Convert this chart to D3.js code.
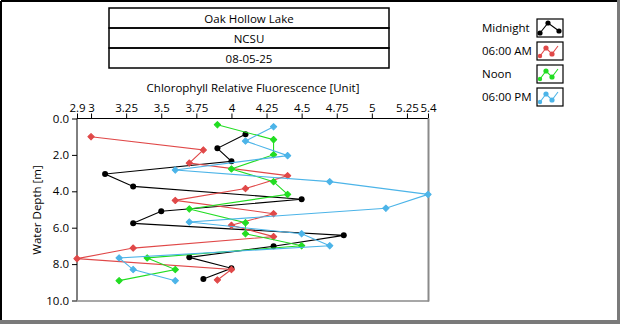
<!DOCTYPE html>
<html>
<head>
<meta charset="utf-8">
<script src="https://cdn.jsdelivr.net/npm/d3@7/dist/d3.min.js"></script>
<style>
  html, body { margin: 0; padding: 0; background: #fff; }
  svg { display: block; font-family: "Open Sans", "Noto Sans", sans-serif; }
</style>
</head>
<body>
<svg id="chart" width="620" height="324"></svg>
<script>
// Profile casts: chlorophyll fluorescence vs. depth, four casts over one day
const titleLines = ["Oak Hollow Lake", "NCSU", "08-05-25"];
const seriesNames = ["Midnight", "06:00 AM", "Noon", "06:00 PM"];
const seriesColors = ["#000000", "#e04848", "#22dd22", "#4cb4e8"];

const midnightDepth = [0.87, 1.64, 2.35, 3.05, 3.73, 4.44, 5.10, 5.76, 6.42, 7.02, 7.63, 8.23, 8.82];
const midnightValue = [4.1, 3.9, 4.0, 3.1, 3.3, 4.5, 3.5, 3.3, 4.8, 4.3, 3.7, 4.0, 3.8];

const amDepth = [1.00, 1.73, 2.45, 3.14, 3.85, 4.50, 5.23, 5.87, 6.49, 7.12, 7.70, 8.30, 8.87];
const amValue = [3.0, 3.8, 3.7, 4.4, 4.1, 3.6, 4.3, 4.0, 4.3, 3.3, 2.9, 4.0, 3.9];

const noonDepth = [0.34, 1.16, 1.99, 2.77, 3.47, 4.17, 4.97, 5.73, 6.33, 6.99, 7.66, 8.30, 8.91];
const noonValue = [3.9, 4.3, 4.3, 4.0, 4.3, 4.4, 3.7, 4.1, 4.1, 4.5, 3.4, 3.6, 3.2];

const pmDepth = [0.45, 1.24, 2.04, 2.83, 3.47, 4.17, 4.93, 5.69, 6.33, 6.99, 7.66, 8.30, 8.91];
const pmValue = [4.3, 4.1, 4.4, 3.6, 4.7, 5.4, 5.1, 3.7, 4.5, 4.7, 3.2, 3.3, 3.6];

const xTicks = [2.9, 3, 3.25, 3.5, 3.75, 4, 4.25, 4.5, 4.75, 5, 5.25, 5.4];
const yTicks = [0, 2, 4, 6, 8, 10];
const xTitle = "Chlorophyll Relative Fluorescence [Unit]";
const yTitle = "Water Depth [m]";

const series = [
  { name: seriesNames[0], color: seriesColors[0], depth: midnightDepth, value: midnightValue, shape: "circle" },
  { name: seriesNames[1], color: seriesColors[1], depth: amDepth, value: amValue, shape: "diamond" },
  { name: seriesNames[2], color: seriesColors[2], depth: noonDepth, value: noonValue, shape: "diamond" },
  { name: seriesNames[3], color: seriesColors[3], depth: pmDepth, value: pmValue, shape: "diamond" }
];

const svg = d3.select("#chart");
const fs = 11.5;

// outer panel frame: dark top/left edge, grey raised bottom/right edge
svg.append("line").attr("x1", 1).attr("y1", 1).attr("x2", 618).attr("y2", 1).attr("stroke", "#000").attr("stroke-width", 2);
svg.append("line").attr("x1", 1).attr("y1", 1).attr("x2", 1).attr("y2", 321).attr("stroke", "#000").attr("stroke-width", 2);
svg.append("rect").attr("x", 617).attr("y", 0).attr("width", 3).attr("height", 324).attr("fill", "#7a7a7a");
svg.append("rect").attr("x", 0).attr("y", 320).attr("width", 620).attr("height", 4).attr("fill", "#7a7a7a");

// title block
const tb = { x: 109, y: 8, w: 280, h: 20 };
const title = svg.append("g");
titleLines.forEach((t, i) => {
  title.append("rect")
    .attr("x", tb.x).attr("y", tb.y + i * tb.h)
    .attr("width", tb.w).attr("height", tb.h)
    .attr("fill", "none").attr("stroke", "#000").attr("stroke-width", 1.5);
  title.append("text")
    .attr("x", tb.x + tb.w / 2).attr("y", tb.y + i * tb.h + 14.5)
    .attr("text-anchor", "middle").attr("font-size", fs).attr("fill", "#000")
    .text(t);
});

// plot area
const plot = { left: 77, right: 428, top: 118.5, bottom: 300.5 };
const x = d3.scaleLinear().domain([2.9, 5.4]).range([plot.left, plot.right]);
const y = d3.scaleLinear().domain([0, 10]).range([plot.top, plot.bottom]);

// top axis
const xAxis = svg.append("g")
  .attr("transform", `translate(0,${plot.top})`)
  .call(d3.axisTop(x).tickValues(xTicks).tickFormat(d => String(d)).tickSize(5).tickSizeOuter(0));
xAxis.select(".domain").remove();
xAxis.selectAll("text").attr("font-size", fs).attr("font-family", "Open Sans, Noto Sans, sans-serif").attr("dy", "0.1em").attr("fill", "#000");
xAxis.selectAll("line").attr("stroke", "#000");

// left axis
const yAxis = svg.append("g")
  .attr("transform", `translate(${plot.left},0)`)
  .call(d3.axisLeft(y).tickValues(yTicks).tickFormat(d3.format(".1f")).tickSize(5).tickSizeOuter(0));
yAxis.select(".domain").remove();
yAxis.selectAll("text").attr("font-size", fs).attr("font-family", "Open Sans, Noto Sans, sans-serif").attr("fill", "#000");
yAxis.selectAll("line").attr("stroke", "#000");

// plot border: black top/left, grey bottom/right
svg.append("line").attr("x1", plot.left).attr("y1", plot.top).attr("x2", plot.right).attr("y2", plot.top).attr("stroke", "#000");
svg.append("line").attr("x1", plot.left).attr("y1", plot.top).attr("x2", plot.left).attr("y2", plot.bottom).attr("stroke", "#000");
svg.append("line").attr("x1", plot.right + 0.5).attr("y1", plot.top).attr("x2", plot.right + 0.5).attr("y2", plot.bottom + 1).attr("stroke", "#8a8a8a").attr("stroke-width", 2);
svg.append("line").attr("x1", plot.left).attr("y1", plot.bottom + 0.5).attr("x2", plot.right + 1).attr("y2", plot.bottom + 0.5).attr("stroke", "#8a8a8a").attr("stroke-width", 1.5);

// axis titles
svg.append("text").attr("x", 253).attr("y", 92).attr("text-anchor", "middle")
  .attr("font-size", fs).attr("fill", "#000").text(xTitle);
svg.append("text").attr("transform", "translate(41,210) rotate(-90)").attr("text-anchor", "middle")
  .attr("font-size", fs).attr("fill", "#000").text(yTitle);

// series lines and markers
svg.append("defs").append("clipPath").attr("id", "plotclip")
  .append("rect").attr("x", plot.left - 4).attr("y", plot.top).attr("width", plot.right - plot.left + 8).attr("height", plot.bottom - plot.top);

const line = d3.line().x(d => x(d.v)).y(d => y(d.d));
const square = d3.symbol().type(d3.symbolSquare).size(20);
const marks = svg.append("g").attr("clip-path", "url(#plotclip)");

series.forEach(s => {
  const pts = s.depth.map((d, i) => ({ d, v: s.value[i] }));
  marks.append("path").datum(pts).attr("d", line)
    .attr("fill", "none").attr("stroke", s.color).attr("stroke-width", 1.1);
  if (s.shape === "circle") {
    marks.selectAll(null).data(pts).enter().append("circle")
      .attr("cx", d => x(d.v)).attr("cy", d => y(d.d)).attr("r", 3).attr("fill", s.color);
  } else {
    marks.selectAll(null).data(pts).enter().append("path")
      .attr("d", square).attr("transform", d => `translate(${x(d.v)},${y(d.d)}) rotate(45)`)
      .attr("fill", s.color).attr("stroke", s.color).attr("stroke-width", 1).attr("stroke-linejoin", "round");
  }
});

// legend
const lg = svg.append("g");
const iconBlack = [[3, 14], [11, 4], [22, 12]];
const iconWave = [[3, 14], [9, 6], [15, 12], [21, 4]];
series.forEach((s, i) => {
  const top = 19 + i * 23;
  lg.append("text").attr("x", 482).attr("y", top + 13).attr("font-size", fs).attr("fill", "#000").text(s.name);
  const g = lg.append("g").attr("transform", `translate(537,${top})`);
  g.append("rect").attr("x", 0).attr("y", 0).attr("width", 26).attr("height", 18)
    .attr("fill", "#fff").attr("stroke", "#000").attr("stroke-width", 1.2);
  const pts = i === 0 ? iconBlack : iconWave;
  g.append("path").attr("d", d3.line()(pts)).attr("fill", "none").attr("stroke", s.color).attr("stroke-width", 1.1);
  pts.forEach((p, k) => {
    if (i !== 0 && (k === 0 || k === 3)) return;
    g.append("circle").attr("cx", p[0]).attr("cy", p[1]).attr("r", 2.6).attr("fill", s.color);
  });
  if (i !== 0) {
    g.append("circle").attr("cx", 3).attr("cy", 14).attr("r", 2.2).attr("fill", s.color);
  }
});
</script>
</body>
</html>
